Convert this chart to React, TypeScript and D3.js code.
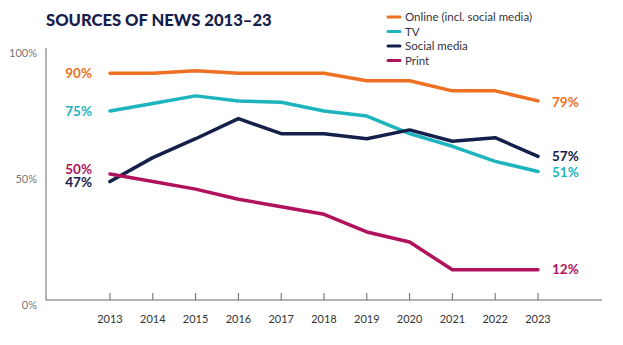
import React from "react";
import * as d3 from "d3";

const years = [2013, 2014, 2015, 2016, 2017, 2018, 2019, 2020, 2021, 2022, 2023];
const online = [90, 90, 91, 90, 90, 90, 87, 87, 83, 83, 79];
const tv = [75, 78, 81, 79, 78.5, 75, 73, 66, 61, 55, 51];
const social = [47, 56.5, 64, 72, 66, 66, 64, 67.5, 63, 64.4, 57];
const print = [50, 47, 44, 40, 37, 34, 27, 23, 12, 12, 12];
const yTicks = [0, 50, 100];

const seriesNames = ["Online (incl. social media)", "TV", "Social media", "Print"];
const seriesColors = ["#EE7023", "#1DB4BE", "#14204B", "#B1125C"];
const seriesValues = [online, tv, social, print];
const startLabelOffsets = [0, 0, 1, -5];
const endLabelOffsets = [1, 0.5, -0.5, 0];

export default function App() {
  const W = 623, H = 345;
  const x = d3.scaleLinear().domain([2013, 2023]).range([110, 538]);
  const y = d3.scaleLinear().domain([0, 100]).range([300, 48]);
  const line = d3
    .line<number>()
    .x((_, i) => x(years[i]))
    .y((d) => y(d));

  return (
    <div style={{ position: "absolute", left: 0, top: 0 }}>
      <svg width={W} height={H} style={{ display: "block", background: "#fff" }}>
        <text x={46} y={26} fontFamily="Lato" fontWeight={900} fontSize={16.6} fill="#14204B">
          SOURCES OF NEWS 2013–23
        </text>

        {/* legend */}
        {seriesNames.map((n, i) => (
          <g key={n} transform={`translate(388, ${17 + i * 14.5})`}>
            <line x1={0} x2={12} y1={0} y2={0} stroke={seriesColors[i]} strokeWidth={3} strokeLinecap="round" />
            <text x={17} y={0} dy="0.35em" fontFamily="Lato" fontSize={11.5} fill="#333344">
              {n}
            </text>
          </g>
        ))}

        {/* axes */}
        <line x1={46} x2={46} y1={48} y2={300} stroke="#666" strokeWidth={1} />
        <line x1={46} x2={602} y1={300} y2={300} stroke="#666" strokeWidth={1} />
        {years.map((yr) => (
          <g key={yr}>
            <line x1={x(yr)} x2={x(yr)} y1={293} y2={300} stroke="#666" strokeWidth={1} />
            <text x={x(yr)} y={319} dy="0.35em" textAnchor="middle" fontFamily="Lato" fontSize={11} fill="#333">
              {yr}
            </text>
          </g>
        ))}
        {yTicks.map((t) => (
          <text key={t} x={37} y={y(t) + 5} dy="0.35em" textAnchor="end" fontFamily="Lato" fontSize={11} fill="#777">
            {t}%
          </text>
        ))}

        {/* lines */}
        {seriesValues.map((vals, i) => (
          <path
            key={i}
            d={line(vals) || ""}
            fill="none"
            stroke={seriesColors[i]}
            strokeWidth={3.5}
            strokeLinejoin="round"
            strokeLinecap="round"
          />
        ))}

        {/* start labels */}
        {seriesValues.map((vals, i) => (
          <text
            key={"s" + i}
            x={92}
            y={y(vals[0]) + startLabelOffsets[i]}
            dy="0.35em"
            textAnchor="end"
            fontFamily="Lato"
            fontWeight={700}
            fontSize={13.5}
            fill={seriesColors[i]}
          >
            {Math.round(vals[0])}%
          </text>
        ))}
        {/* end labels */}
        {seriesValues.map((vals, i) => (
          <text
            key={"e" + i}
            x={552}
            y={y(vals[vals.length - 1]) + endLabelOffsets[i]}
            dy="0.35em"
            textAnchor="start"
            fontFamily="Lato"
            fontWeight={700}
            fontSize={13.5}
            fill={seriesColors[i]}
          >
            {Math.round(vals[vals.length - 1])}%
          </text>
        ))}
      </svg>
    </div>
  );
}
